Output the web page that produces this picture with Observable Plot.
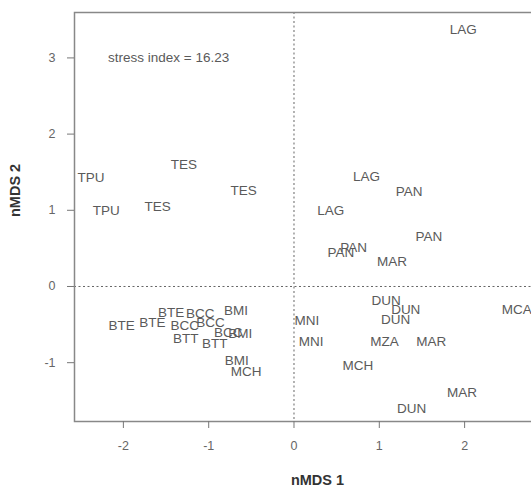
<!DOCTYPE html>
<html>
<head>
<meta charset="utf-8">
<script src="https://cdn.jsdelivr.net/npm/d3@7"></script>
<script src="https://cdn.jsdelivr.net/npm/@observablehq/plot@0.6"></script>
<style>
  html, body { margin: 0; padding: 0; background: white; overflow: hidden; }
</style>
</head>
<body>
<div id="chart"></div>
<script>
const siteLabels = ["TPU","TPU","TES","TES","TES","LAG","LAG","PAN","LAG","PAN","PAN","PAN","MAR",
  "BTE","BTE","BTE","BCC","BMI","BCC","BCC","BTT","BCC","BMI","BTT","BMI","MCH",
  "MNI","MNI","DUN","DUN","DUN","MZA","MAR","MCH","MCA","DUN","MAR"];
const nmds1 = [-2.38,-2.20,-1.29,-0.59,-1.60,1.985,0.85,1.35,0.43,1.58,0.55,0.70,1.15,
  -2.02,-1.66,-1.44,-1.10,-0.68,-1.28,-0.98,-1.27,-0.77,-0.63,-0.93,-0.67,-0.56,
  0.15,0.20,1.08,1.31,1.19,1.06,1.61,0.75,2.61,1.38,1.97];
const nmds2 = [1.43,1.00,1.60,1.26,1.05,3.37,1.44,1.24,0.99,0.65,0.44,0.51,0.32,
  -0.51,-0.48,-0.34,-0.36,-0.32,-0.51,-0.47,-0.68,-0.60,-0.62,-0.75,-0.97,-1.12,
  -0.45,-0.73,-0.18,-0.31,-0.44,-0.72,-0.73,-1.04,-0.31,-1.60,-1.40];
const xTicks = [-2,-1,0,1,2];
const yTicks = [-1,0,1,2,3];
const stressText = ["stress index = 16.23"];
const stressX = [-1.47];
const stressY = [3.0];

const points = siteLabels.map((s, i) => ({label: s, x: nmds1[i], y: nmds2[i]}));
const notes = stressText.map((t, i) => ({label: t, x: stressX[i], y: stressY[i]}));

const font = "'Liberation Sans', Arial, Helvetica, sans-serif";
const W = 560, H = 489;
const chart = Plot.plot({
  width: W,
  height: H,
  marginLeft: 74,
  marginRight: 0,
  marginTop: 12,
  marginBottom: 68,
  style: {maxWidth: "none", background: "white", fontFamily: font, overflow: "visible"},
  x: {domain: [-2.573, 3.124]},
  y: {domain: [-1.772, 3.596]},
  marks: [
    Plot.ruleX([0], {stroke: "#666", strokeDasharray: "2,2.5", strokeWidth: 1}),
    Plot.ruleY([0], {stroke: "#666", strokeDasharray: "2,2.5", strokeWidth: 1}),
    Plot.frame({stroke: "#888", strokeWidth: 1.5}),
    Plot.axisX({ticks: xTicks, tickSize: 7, tickPadding: 13, fontSize: 12.5, label: null, tickFormat: d => String(d), stroke: "#777", color: "#666"}),
    Plot.axisY({ticks: yTicks, tickSize: 7, tickPadding: 12, fontSize: 12.5, label: null, tickFormat: d => String(d), stroke: "#777", color: "#666"}),
    Plot.text(["nMDS 1"], {frameAnchor: "bottom", dy: 63, fontSize: 14.5, fontWeight: "bold", fill: "#333"}),
    Plot.text(["nMDS 2"], {frameAnchor: "left", dx: -59, rotate: -90, fontSize: 14.5, fontWeight: "bold", fill: "#333"}),
    Plot.text(notes, {x: "x", y: "y", text: "label", fontSize: 13.5, fill: "#5a5a5a"}),
    Plot.text(points, {x: "x", y: "y", text: "label", fontSize: 13.5, fill: "#5a5a5a"})
  ]
});
document.getElementById("chart").appendChild(chart);
</script>
</body>
</html>
